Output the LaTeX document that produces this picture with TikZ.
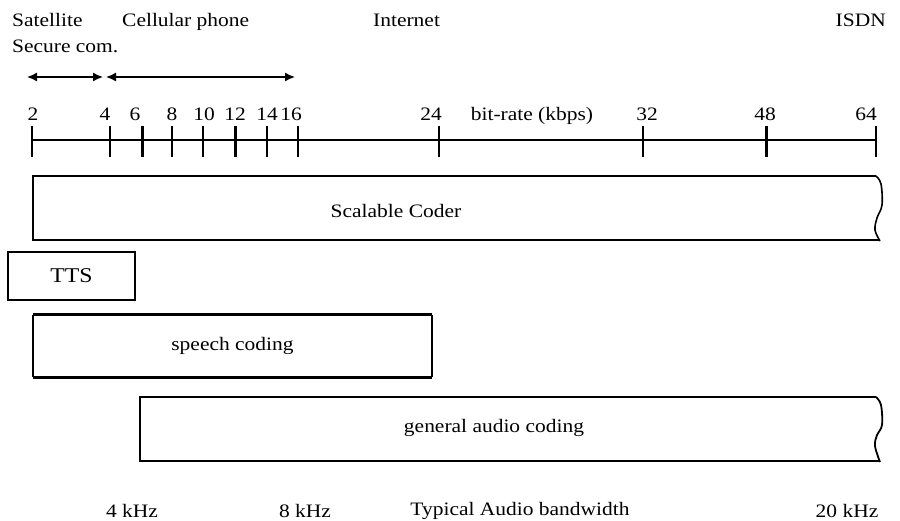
\documentclass[tikz,border=0pt]{standalone}
\usepackage{fontspec}
\setmainfont{Liberation Serif}[FakeStretch=1.13]
\usetikzlibrary{arrows.meta}
\begin{document}
\begin{tikzpicture}[x=1pt,y=-1pt,
  lbl/.style={font=\fontsize{19}{23}\selectfont,inner sep=0pt,anchor=base},
  tickmk/.style={line width=1.6pt},
  thicktick/.style={line width=3pt},
  boxline/.style={line width=1.7pt},
  rangearrow/.style={line width=1.5pt,{Latex[length=10pt,width=9pt]}-{Latex[length=10pt,width=9pt]}}]
\useasboundingbox (0,0) rectangle (900,521);
% top application labels
\node[lbl,anchor=base west] (sat) at (12,27) {Satellite};
\node[lbl,anchor=base west] (sec) at (12,53) {Secure com.};
\node[lbl,anchor=base west] (cell) at (122,27) {Cellular phone};
\node[lbl,anchor=base west] (inet) at (373,27) {Internet};
\node[lbl,anchor=base east] (isdn) at (886,27) {ISDN};
% range arrows
\coordinate (a1) at (27,77);
\coordinate (a2) at (103,77);
\coordinate (a3) at (106,77);
\coordinate (a4) at (295,77);
\draw[rangearrow] (a1) -- (a2);
\draw[rangearrow] (a3) -- (a4);
% axis
\coordinate (ax0) at (32,140);
\coordinate (ax1) at (876,140);
\draw[line width=2.8pt] (ax0) -- (ax1);
\foreach \x in {32,110,172,203,267,298,439,643,876}
  \draw[tickmk] (\x,126) -- (\x,157);
\foreach \x in {142,235,766}
  \draw[thicktick] (\x,126) -- (\x,157);
% tick labels
\foreach \x/\t in {33/2,105/4,135/6,172/8,204/10,235/12,267/14,291/16,431/24,647/32,765/48,866/64}
  \node[lbl] at (\x,121) {\t};
\node[lbl] (br) at (532,121) {bit-rate (kbps)};
% Scalable coder box
\draw[boxline] (876,176) -- (33,176) -- (33,240) -- (880,240);
\draw[line width=1.6pt] plot[smooth,tension=0.6] coordinates {(876,176) (881,184) (882,205) (877,218) (875,230) (880,241)};
\node[lbl,anchor=center] (sc) at (396,211) {Scalable Coder};
% TTS
\node[draw,line width=1.5pt,minimum width=127pt,minimum height=48pt,inner sep=0pt,
  font=\fontsize{21}{25}\selectfont] (tts) at (71.5,276) {TTS};
% speech coding
\node[minimum width=399pt,minimum height=62pt,inner sep=0pt,
  font=\fontsize{19}{23}\selectfont] (sp) at (232.5,346) {speech coding};
\draw[line width=2.8pt] (sp.north west) -- (sp.north east);
\draw[line width=2.8pt] (sp.south west) -- (sp.south east);
\draw[line width=1.5pt] (sp.north west) -- (sp.south west);
\draw[line width=1.5pt] (sp.north east) -- (sp.south east);
% general audio coding
\draw[line width=2pt] (876,397) -- (140,397) -- (140,461) -- (880,461);
\draw[line width=1.8pt] plot[smooth,tension=0.6] coordinates {(876,397) (881,405) (882,425) (877,435) (875,446) (880,462)};
\node[lbl,anchor=center] (ga) at (494,428) {general audio coding};
% bandwidth labels
\node[lbl] (k4) at (132,517) {4 kHz};
\node[lbl] (k8) at (305,517) {8 kHz};
\node[lbl] (tab) at (520,515) {Typical Audio bandwidth};
\node[lbl] (k20) at (847,517) {20 kHz};
\end{tikzpicture}
\end{document}
